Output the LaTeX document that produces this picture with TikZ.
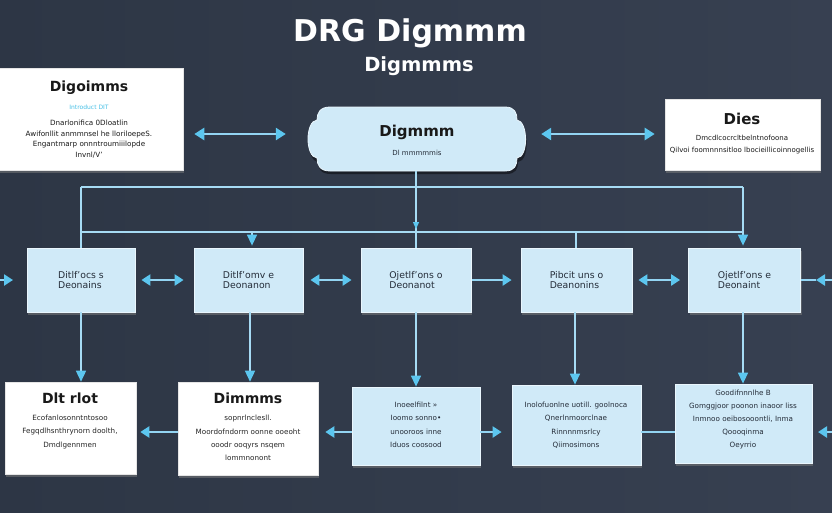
\documentclass[tikz,border=0pt]{standalone}
\usepackage{fontspec}
\setmainfont{DejaVu Sans}
\usetikzlibrary{arrows.meta,shadows}
\definecolor{bgL}{HTML}{2D3645}
\definecolor{bgR}{HTML}{374051}
\definecolor{boxblue}{HTML}{D0EAF8}
\definecolor{boxedge}{HTML}{EAF6FD}
\definecolor{linkc}{HTML}{A6DBF4}
\definecolor{headc}{HTML}{5CC6EF}
\definecolor{arrc}{HTML}{93D4F2}
\definecolor{txt}{HTML}{242C38}
\definecolor{cyant}{HTML}{47C0E6}
\begin{document}
\begin{tikzpicture}[x=1pt,y=-1pt,
  shd/.style={drop shadow={opacity=0.5,shadow xshift=1pt,shadow yshift=-3pt}},
  lbox/.style={fill=boxblue,draw=boxedge,line width=0.8pt,inner sep=0pt,shd},
  wbox/.style={fill=white,draw=gray!20,line width=0.6pt,inner sep=0pt,shd},
  link/.style={draw=linkc,line width=1.3pt},
  varr/.style={draw=linkc,line width=1.4pt,-{Triangle[width=10pt,length=11pt,color=headc]}},
  arr/.style={draw=arrc,line width=2.4pt,-{Triangle[width=11pt,length=9pt,color=headc]}},
  darr/.style={draw=arrc,line width=2.4pt,{Triangle[width=11pt,length=9pt,color=headc]}-{Triangle[width=11pt,length=9pt,color=headc]}},
  bigdarr/.style={draw=arrc,line width=2.8pt,{Triangle[width=12pt,length=10pt,color=headc]}-{Triangle[width=12pt,length=10pt,color=headc]}},
  ttlfont/.style={font=\bfseries\fontsize{30}{36}\selectfont,text=white,inner sep=0pt},
  boxttl/.style={font=\bfseries\fontsize{14}{16}\selectfont,text=black!90,inner sep=0pt},
  smalltxt/.style={font=\fontsize{7.2}{10.5}\selectfont,text=black!90,align=center,inner sep=0pt},
  midtxt/.style={font=\fontsize{9.3}{10.5}\selectfont,text=txt,align=left,inner sep=0pt},
  bottxt/.style={font=\fontsize{7.2}{13.5}\selectfont,text=txt,align=center,inner sep=0pt}
]
\useasboundingbox (0,0) rectangle (832,512);
\clip (0,0) rectangle (832,512);
\shade[left color=bgL,right color=bgR] (0,0) rectangle (832,512);

% titles
\node[ttlfont] (title) at (410,33) {DRG Digmmm};
\node[font=\bfseries\fontsize{19.5}{22}\selectfont,text=white,inner sep=0pt] (subtitle) at (419,66) {Digmmms};

% top-left box
\node[wbox,minimum width=185pt,minimum height=102pt] (tl) at (90.5,119) {};
\node[boxttl] (tlt) at (89,88) {Digoimms};
\node[font=\fontsize{6}{7}\selectfont,text=cyant,inner sep=0pt] (tlc) at (89,107) {Introduct DIT};
\node[smalltxt] (tll) at (89,139) {Dnarlonifica 0Dloatlin\\Awifonllit anmmnsel he lloriloepeS.\\Engantmarp onnntroumiiilopde\\Invnl/V'};

% top-right box
\node[wbox,minimum width=155pt,minimum height=71pt] (tr) at (742.5,134.5) {};
\node[boxttl,font=\bfseries\fontsize{15}{17}\selectfont] (trt) at (742,119) {Dies};
\node[smalltxt,font=\fontsize{7}{12}\selectfont] (trl) at (742,145) {Dmcdlcocrcltbelntnofoona\\Qilvoi foomnnnsitloo lbocieillicoinnogellis};

% cloud
\fill[black,opacity=0.45] (331,111) -- (506,111) .. controls (516,111) and (518,117) .. (518,124) .. controls (529,125) and (530,161) .. (518,162) .. controls (518,169) and (516,174) .. (506,174) -- (331,174) .. controls (321,174) and (318,169) .. (318,162) .. controls (306,161) and (306,125) .. (318,124) .. controls (318,117) and (321,111) .. (331,111) -- cycle;
\filldraw[fill=boxblue,draw=boxedge,line width=0.8pt] (330,107) -- (505,107) .. controls (515,107) and (517,113) .. (517,120) .. controls (528,121) and (529,157) .. (517,158) .. controls (517,165) and (515,171) .. (505,171) -- (330,171) .. controls (320,171) and (317,165) .. (317,158) .. controls (305,157) and (305,121) .. (317,120) .. controls (317,113) and (320,107) .. (330,107) -- cycle;
\node[minimum width=222pt,minimum height=74pt,inner sep=0pt] (cloud) at (416,134) {};
\node[boxttl,font=\bfseries\fontsize{15}{17}\selectfont] (cloudt) at (417,132) {Digmmm};
\node[font=\fontsize{7}{8}\selectfont,text=txt,inner sep=0pt] (clouds) at (417,153) {Dl mmmmmis};

% top arrows
\coordinate (ya) at (0,134);
\draw[bigdarr] ([xshift=11pt]tl.east |- ya) -- ([xshift=-19pt]cloud.west |- ya);
\draw[bigdarr] ([xshift=14pt]cloud.east |- ya) -- ([xshift=-10pt]tr.west |- ya);

% middle boxes
\node[lbox,minimum width=108pt,minimum height=64pt] (mb1) at (81,280) {};
\node[lbox,minimum width=109pt,minimum height=64pt] (mb2) at (248.5,280) {};
\node[lbox,minimum width=110pt,minimum height=64pt] (mb3) at (416,280) {};
\node[lbox,minimum width=111pt,minimum height=64pt] (mb4) at (576.5,280) {};
\node[lbox,minimum width=112pt,minimum height=64pt] (mb5) at (744.5,280) {};
\node[midtxt] (mt1) at (mb1) {Ditlf'ocs s\\Deonains};
\node[midtxt] (mt2) at (mb2) {Ditlf'omv e\\Deonanon};
\node[midtxt] (mt3) at (mb3) {Ojetlf'ons o\\Deonanot};
\node[midtxt] (mt4) at (mb4) {Pibcit uns o\\Deanonins};
\node[midtxt] (mt5) at (mb5) {Ojetlf'ons e\\Deonaint};

% network
\coordinate (n1) at (81,187);
\coordinate (n2) at (416,187);
\coordinate (n3) at (743,187);
\coordinate (m1) at (81,232);
\coordinate (m2) at (252,232);
\coordinate (m3) at (416,232);
\coordinate (m4) at (576,232);
\coordinate (m5) at (743,232);
\draw[link] (n1) -- (n3);
\draw[link] (m1) -- (m5);
\draw[link] (n1) -- (mb1.north);
\draw[link] (cloud.south) -- (mb3.north);
\draw[link,-{Triangle[width=6pt,length=7pt,color=headc]}] (n2) -- ([yshift=3pt]m3);
\draw[varr,shorten >=2pt] (n3) -- (n3 |- mb5.north);
\draw[varr,shorten >=2pt] (m2) -- (m2 |- mb2.north);
\draw[link] (m4) -- (m4 |- mb4.north);

% middle arrows
\draw[darr,shorten <=6pt,shorten >=10pt] (mb1.east) -- (mb2.west);
\draw[darr,shorten <=7pt,shorten >=9pt] (mb2.east) -- (mb3.west);
\draw[arr,shorten <=1pt,shorten >=9pt] (mb3.east) -- (mb4.west);
\draw[darr,shorten <=6pt,shorten >=8pt] (mb4.east) -- (mb5.west);
\coordinate (rE) at (850,280);
\coordinate (rT) at (816,280);
\draw[draw=arrc,line width=2.4pt] (mb5.east) -- (rT);
\draw[arr] (rE) -- (rT);
\coordinate (lE) at (-20,280);
\coordinate (lT) at (13,280);
\draw[arr] (lE) -- (lT);

% bottom boxes
\node[wbox,minimum width=131pt,minimum height=92pt] (b1) at (70.5,428) {};
\node[wbox,minimum width=140pt,minimum height=93pt] (b2) at (248,428.5) {};
\node[lbox,minimum width=128pt,minimum height=78pt] (b3) at (416,426) {};
\node[lbox,minimum width=129pt,minimum height=80pt] (b4) at (576.5,425) {};
\node[lbox,minimum width=137pt,minimum height=79pt] (b5) at (743.5,423.5) {};
\node[boxttl] (b1t) at (70,398) {Dlt rlot};
\node[bottxt,text=black!85] (b1l) at (70,432) {Ecofanlosonntntosoo\\Fegqdlhsnthrynorn doolth,\\Dmdlgennmen};
\node[boxttl] (b2t) at (248,398) {Dimmms};
\node[bottxt,text=black!85,font=\fontsize{7.2}{13.3}\selectfont] (b2l) at (248,438) {sopnrlnclesll.\\Moordofndorm oonne ooeoht\\ooodr ooqyrs nsqem\\lommnonont};
\node[bottxt] (b3l) at (416,425) {Inoeelfilnt »\\Ioomo sonno•\\unooroos inne\\Iduos coosood};
\node[bottxt] (b4l) at (576,425) {Inolofuonlne uotill. goolnoca\\Qnerlnmoorclnae\\Rinnnnmsrlcy\\Qiimosimons};
\node[bottxt,font=\fontsize{7.2}{13}\selectfont] (b5l) at (743,420) {Goodifnnnlhe B\\Gomggjoor poonon inaoor liss\\Inmnoo oeibosooontli, Inma\\Qoooqinma\\Oeyrrio};

% verticals to bottom boxes
\draw[varr] (mb1.south) -- (mb1.south |- b1.north);
\draw[varr] ([xshift=1.5pt]mb2.south) -- ([xshift=1.5pt]mb2.south |- b2.north);
\draw[varr] (mb3.south) -- (mb3.south |- b3.north);
\draw[varr] ([xshift=-1.5pt]mb4.south) -- ([xshift=-1.5pt]mb4.south |- b4.north);
\draw[varr] ([xshift=-1.5pt]mb5.south) -- ([xshift=-1.5pt]mb5.south |- b5.north);

% bottom arrows
\coordinate (yb) at (0,432);
\draw[arr,shorten >=4pt] (b2.west |- yb) -- (b1.east |- yb);
\draw[arr,shorten >=7pt] (b3.west |- yb) -- (b2.east |- yb);
\draw[arr,shorten >=10pt] (b3.east |- yb) -- (b4.west |- yb);
\draw[draw=arrc,line width=2.4pt] (b4.east |- yb) -- (b5.west |- yb);
\coordinate (rE2) at (850,432);
\coordinate (rT2) at (818,432);
\draw[arr] (rE2) -- (rT2);
\end{tikzpicture}
\end{document}
